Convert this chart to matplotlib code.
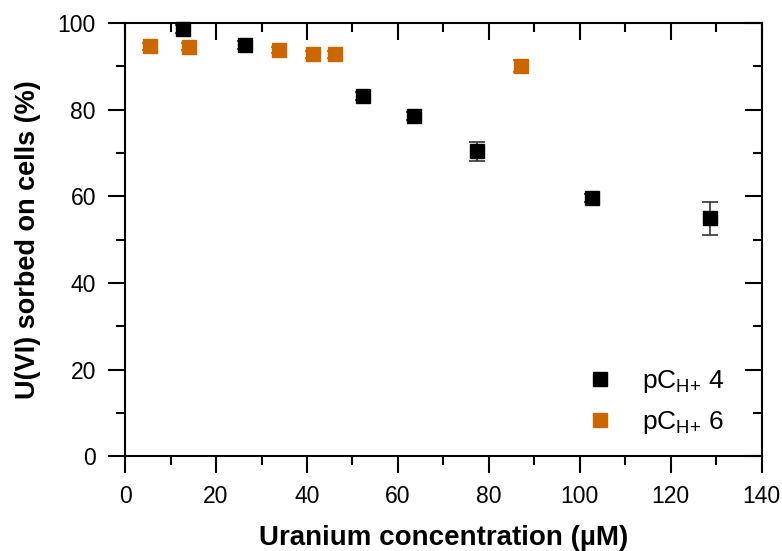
import numpy as np
import matplotlib
matplotlib.use('Agg')
import matplotlib.pyplot as plt
from matplotlib.ticker import MultipleLocator
from matplotlib.lines import Line2D

plt.rcParams['font.family'] = ['Liberation Sans', 'DejaVu Sans']
plt.rcParams['mathtext.default'] = 'regular'

# pCH+ 4
x_ph4 = [12.7, 26.4, 52.3, 63.5, 77.5, 102.6, 128.6]
y_ph4 = [98.6, 94.9, 83.1, 78.5, 70.4, 59.7, 54.9]
e_ph4 = [0.9, 0.9, 0.9, 0.9, 2.2, 0.9, 3.9]

# pCH+ 6
x_ph6 = [5.5, 14.1, 33.8, 41.3, 46.2, 87.0]
y_ph6 = [94.7, 94.5, 93.8, 92.8, 92.8, 90.1]
e_ph6 = [0.8, 0.8, 0.8, 0.8, 0.8, 1.4]

labels = [r'pC$_{H{+}}$ 4', r'pC$_{H{+}}$ 6']
orange = '#CC6600'

fig = plt.figure(figsize=(7.82, 5.51), dpi=100)
ax = fig.add_axes([0.160, 0.172, 0.814, 0.786])

ax.errorbar(x_ph4, y_ph4, yerr=e_ph4, fmt='s', color='black', ecolor='#333333',
            ms=10.5, capsize=6, elinewidth=1.2, capthick=1.2,
            zorder=3, clip_on=False)
ax.errorbar(x_ph6, y_ph6, yerr=e_ph6, fmt='s', color=orange, ecolor=orange,
            ms=10.5, capsize=6, elinewidth=1.2, capthick=1.2,
            zorder=3, clip_on=False)

ax.set_xlim(0, 140)
ax.set_ylim(0, 100)
ax.xaxis.set_major_locator(MultipleLocator(20))
ax.xaxis.set_minor_locator(MultipleLocator(10))
ax.yaxis.set_major_locator(MultipleLocator(20))
ax.yaxis.set_minor_locator(MultipleLocator(10))

for s in ax.spines.values():
    s.set_linewidth(1.5)

ax.tick_params(which='both', direction='out', width=1.5, labelsize=16.5)
ax.tick_params(which='major', length=12)
ax.tick_params(which='minor', length=6.5)
ax.tick_params(which='both', top=True, right=True)
ax.tick_params(axis='y', pad=9)
ax.tick_params(axis='x', pad=9)

# top and right ticks point inward
for t in ax.xaxis.get_major_ticks() + ax.xaxis.get_minor_ticks():
    t.tick2line.set_marker(3)
for t in ax.yaxis.get_major_ticks() + ax.yaxis.get_minor_ticks():
    t.tick2line.set_marker(0)

ax.set_xlabel('Uranium concentration (µM)', fontsize=20, fontweight='bold', labelpad=12)
ax.set_ylabel('U(VI) sorbed on cells (%)', fontsize=19.5, fontweight='bold', labelpad=12)

handles = [Line2D([], [], ls='none', marker='s', ms=10.5, color='black'),
           Line2D([], [], ls='none', marker='s', ms=10.5, color=orange)]
ax.legend(handles, labels, loc='lower right', bbox_to_anchor=(0.986, -0.021),
          frameon=False, fontsize=19, handletextpad=0.6, labelspacing=0.55,
          borderaxespad=0.7)

fig.savefig('out.png', dpi=100)
